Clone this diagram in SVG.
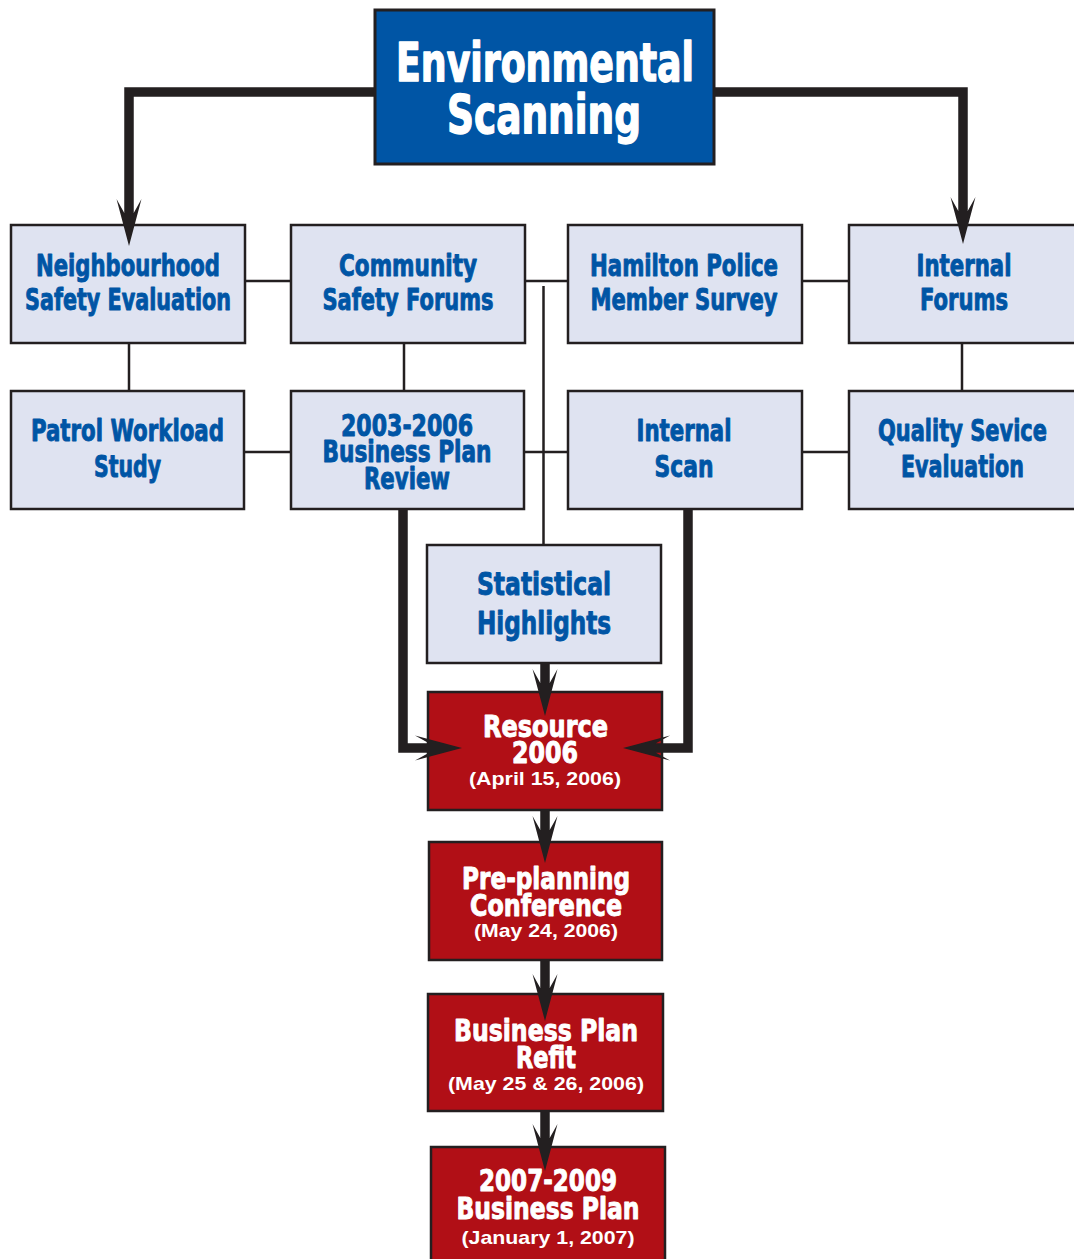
<svg xmlns="http://www.w3.org/2000/svg" xmlns:xlink="http://www.w3.org/1999/xlink" width="1074" height="1259" viewBox="0 0 1074 1259">
<style>
.box{fill:#dfe3f1;stroke:#231f20;stroke-width:2.5}
.top{fill:#0055a5;stroke:#231f20;stroke-width:3}
.red{fill:#b10f16;stroke:#231f20;stroke-width:2.5}
.t{font-family:"Liberation Sans Narrow","DejaVu Sans Condensed","Liberation Sans",sans-serif;font-weight:bold;font-stretch:condensed;text-anchor:middle;stroke-width:0.9;stroke-linejoin:round}
.b{fill:#0055a5;stroke:#0055a5;font-size:30px}
.w{fill:#ffffff;stroke:#ffffff;font-size:30px}
.big{fill:#ffffff;stroke:#ffffff;font-size:54px;stroke-width:1.4}
.d{font-family:"Liberation Sans",Arial,sans-serif;font-weight:bold;fill:#ffffff;font-size:19px;text-anchor:middle}
.thin{fill:none;stroke:#231f20;stroke-width:2.5}
.thick{fill:none;stroke:#231f20;stroke-width:9.5}
.ah{fill:#231f20}
</style>
<defs>
<path id="ah" d="M0,0 L-12.5,-47 L-4.7,-33 L4.7,-33 L12.5,-47 Z"/>
</defs>
<rect width="1074" height="1259" fill="#ffffff"/>

<g id="environmental-scanning">
<rect class="top" x="375" y="10" width="339" height="154"/>
<text class="t big" x="545" y="81" textLength="298" lengthAdjust="spacingAndGlyphs">Environmental</text>
<text class="t big" x="544" y="133" textLength="194" lengthAdjust="spacingAndGlyphs">Scanning</text>
</g>

<g id="neighbourhood-safety-evaluation">
<rect class="box" x="11" y="225" width="234" height="118"/>
<text class="t b" x="128" y="276" textLength="184" lengthAdjust="spacingAndGlyphs">Neighbourhood</text>
<text class="t b" x="128" y="310" textLength="206" lengthAdjust="spacingAndGlyphs">Safety Evaluation</text>
</g>

<g id="community-safety-forums">
<rect class="box" x="291" y="225" width="234" height="118"/>
<text class="t b" x="408" y="276" textLength="138" lengthAdjust="spacingAndGlyphs">Community</text>
<text class="t b" x="408" y="310" textLength="171" lengthAdjust="spacingAndGlyphs">Safety Forums</text>
</g>

<g id="hamilton-police-member-survey">
<rect class="box" x="568" y="225" width="234" height="118"/>
<text class="t b" x="684" y="276" textLength="188" lengthAdjust="spacingAndGlyphs">Hamilton Police</text>
<text class="t b" x="684" y="310" textLength="187" lengthAdjust="spacingAndGlyphs">Member Survey</text>
</g>

<g id="internal-forums">
<rect class="box" x="849" y="225" width="240" height="118"/>
<text class="t b" x="964" y="276" textLength="95" lengthAdjust="spacingAndGlyphs">Internal</text>
<text class="t b" x="964" y="310" textLength="88" lengthAdjust="spacingAndGlyphs">Forums</text>
</g>

<g id="patrol-workload-study">
<rect class="box" x="11" y="391" width="233" height="118"/>
<text class="t b" x="127.5" y="441" textLength="193" lengthAdjust="spacingAndGlyphs">Patrol Workload</text>
<text class="t b" x="127.5" y="477" textLength="67" lengthAdjust="spacingAndGlyphs">Study</text>
</g>

<g id="business-plan-review">
<rect class="box" x="291" y="391" width="233" height="118"/>
<text class="t b" x="407" y="436" textLength="132" lengthAdjust="spacingAndGlyphs">2003-2006</text>
<text class="t b" x="407" y="462" textLength="169" lengthAdjust="spacingAndGlyphs">Business Plan</text>
<text class="t b" x="407" y="489" textLength="86" lengthAdjust="spacingAndGlyphs">Review</text>
</g>

<g id="internal-scan">
<rect class="box" x="568" y="391" width="234" height="118"/>
<text class="t b" x="684" y="441" textLength="95" lengthAdjust="spacingAndGlyphs">Internal</text>
<text class="t b" x="684" y="477" textLength="59" lengthAdjust="spacingAndGlyphs">Scan</text>
</g>

<g id="quality-service-evaluation">
<rect class="box" x="849" y="391" width="240" height="118"/>
<text class="t b" x="962.5" y="441" textLength="169" lengthAdjust="spacingAndGlyphs">Quality Sevice</text>
<text class="t b" x="962.5" y="477" textLength="123" lengthAdjust="spacingAndGlyphs">Evaluation</text>
</g>

<g id="statistical-highlights">
<rect class="box" x="427" y="545" width="234" height="118"/>
<text class="t b" x="544" y="595" style="font-size:32px" textLength="134" lengthAdjust="spacingAndGlyphs">Statistical</text>
<text class="t b" x="544" y="634" style="font-size:32px" textLength="134" lengthAdjust="spacingAndGlyphs">Highlights</text>
</g>

<g id="resource-2006">
<rect class="red" x="428" y="692" width="234" height="118"/>
<text class="t w" x="545.5" y="737" textLength="125" lengthAdjust="spacingAndGlyphs">Resource</text>
<text class="t w" x="545" y="763" textLength="66" lengthAdjust="spacingAndGlyphs">2006</text>
<text class="d" x="545" y="785" textLength="152" lengthAdjust="spacingAndGlyphs">(April 15, 2006)</text>
</g>

<g id="pre-planning-conference">
<rect class="red" x="429" y="842" width="233" height="118"/>
<text class="t w" x="546" y="889" textLength="168" lengthAdjust="spacingAndGlyphs">Pre-planning</text>
<text class="t w" x="546" y="916" textLength="152" lengthAdjust="spacingAndGlyphs">Conference</text>
<text class="d" x="546" y="937" textLength="144" lengthAdjust="spacingAndGlyphs">(May 24, 2006)</text>
</g>

<g id="business-plan-refit">
<rect class="red" x="428" y="994" width="235" height="117"/>
<text class="t w" x="546" y="1041" textLength="184" lengthAdjust="spacingAndGlyphs">Business Plan</text>
<text class="t w" x="546" y="1068" textLength="60" lengthAdjust="spacingAndGlyphs">Refit</text>
<text class="d" x="546" y="1090" textLength="196" lengthAdjust="spacingAndGlyphs">(May 25 &amp; 26, 2006)</text>
</g>

<g id="business-plan-2007-2009">
<rect class="red" x="431" y="1147" width="234" height="118"/>
<text class="t w" x="548" y="1191" textLength="138" lengthAdjust="spacingAndGlyphs">2007-2009</text>
<text class="t w" x="548" y="1219" textLength="183" lengthAdjust="spacingAndGlyphs">Business Plan</text>
<text class="d" x="548" y="1244" textLength="173" lengthAdjust="spacingAndGlyphs">(January 1, 2007)</text>
</g>

<g id="connectors">
<path class="thin" d="M245,281 H291 M525,281 H568 M802,281 H849 M244,452 H291 M524,452 H568 M802,452 H849 M129,343 V391 M404,343 V391 M962,343 V391 M543.5,286 V545"/>
<path class="thick" d="M375,92 H129 V222"/>
<path class="thick" d="M714,92 H963 V220"/>
<path class="thick" d="M403,509 V748 H437"/>
<path class="thick" d="M688,509 V748 H648"/>
<path class="thick" d="M545,663 V690"/>
<path class="thick" d="M545,810 V838"/>
<path class="thick" d="M545,960 V996"/>
<path class="thick" d="M545,1111 V1146"/>
<use xlink:href="#ah" class="ah" transform="translate(129,246)"/>
<use xlink:href="#ah" class="ah" transform="translate(963,244)"/>
<use xlink:href="#ah" class="ah" transform="translate(462,748) rotate(-90)"/>
<use xlink:href="#ah" class="ah" transform="translate(623,748) rotate(90)"/>
<use xlink:href="#ah" class="ah" transform="translate(545,716)"/>
<use xlink:href="#ah" class="ah" transform="translate(545,863)"/>
<use xlink:href="#ah" class="ah" transform="translate(545,1021)"/>
<use xlink:href="#ah" class="ah" transform="translate(545,1171)"/>
</g>
</svg>
